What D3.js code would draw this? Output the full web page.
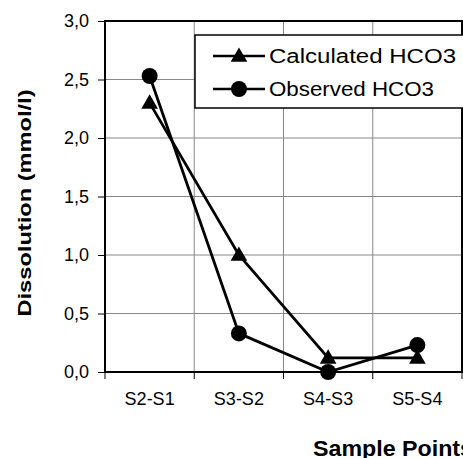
<!DOCTYPE html>
<html>
<head>
<meta charset="utf-8">
<script src="https://cdn.jsdelivr.net/npm/d3@7"></script>
<style>
body { margin: 0; background: #fff; }
svg { display: block; font-family: "Liberation Sans", Arial, sans-serif; }
</style>
</head>
<body>
<div id="viz"></div>
<script>
// Data.
var categories = ["S2-S1", "S3-S2", "S4-S3", "S5-S4"];
var calculated = [2.30, 1.00, 0.12, 0.12];
var observed = [2.53, 0.33, 0.00, 0.23];
var yTicks = [0, 0.5, 1.0, 1.5, 2.0, 2.5, 3.0];
var seriesNames = ["Calculated HCO3", "Observed HCO3"];

var W = 463, H = 458;
var padL = 105, padR = 462, padT = 21, padB = 372;

var svg = d3.select("#viz")
	.append("svg")
	.attr("width", W)
	.attr("height", H);

var x = d3.scaleBand().domain(categories).range([padL, padR]);
var y = d3.scaleLinear().domain([0, 3]).range([padB, padT]);

// Grid.
svg.append("g").selectAll("line")
	.data(yTicks)
	.enter().append("line")
	.attr("x1", padL).attr("x2", padR)
	.attr("y1", function(d) { return y(d); })
	.attr("y2", function(d) { return y(d); })
	.style("stroke", "#888")
	.style("stroke-width", 1);

var bounds = categories.slice(1).map(function(c) { return x(c); });
svg.append("g").selectAll("line")
	.data(bounds)
	.enter().append("line")
	.attr("x1", function(d) { return d; })
	.attr("x2", function(d) { return d; })
	.attr("y1", padT).attr("y2", padB)
	.style("stroke", "#888")
	.style("stroke-width", 1);

// Axes.
var yAxis = d3.axisLeft(y)
	.tickValues(yTicks)
	.tickSize(7)
	.tickPadding(9)
	.tickFormat(function(d) { return d3.format(".1f")(d).replace(".", ","); });
var gy = svg.append("g").attr("transform", "translate(" + padL + ",0)").call(yAxis);
gy.select(".domain").remove();
gy.selectAll("text").style("font-size", "18px").style("fill", "#000");
gy.selectAll("line").style("stroke", "#000");

var xAxis = d3.axisBottom(x).tickSize(0).tickPadding(20);
var gx = svg.append("g").attr("transform", "translate(0," + padB + ")").call(xAxis);
gx.select(".domain").remove();
gx.selectAll("text").style("font-size", "18px").style("fill", "#000");

// Tick marks below the x axis at category boundaries.
svg.append("g").selectAll("line")
	.data([padL].concat(bounds).concat([padR]))
	.enter().append("line")
	.attr("x1", function(d) { return d; })
	.attr("x2", function(d) { return d; })
	.attr("y1", padB).attr("y2", padB + 7)
	.style("stroke", "#000");

// Frame.
svg.append("rect")
	.attr("x", padL).attr("y", padT)
	.attr("width", padR - padL).attr("height", padB - padT)
	.style("fill", "none")
	.style("stroke", "#000")
	.style("stroke-width", 2);

// Axis titles.
svg.append("text")
	.attr("transform", "translate(31,203) rotate(-90)")
	.attr("text-anchor", "middle")
	.attr("textLength", 227)
	.attr("lengthAdjust", "spacingAndGlyphs")
	.style("font-size", "19px")
	.style("font-weight", "bold")
	.text("Dissolution (mmol/l)");

svg.append("text")
	.attr("x", 313).attr("y", 456)
	.attr("textLength", 160)
	.attr("lengthAdjust", "spacingAndGlyphs")
	.style("font-size", "22px")
	.style("font-weight", "bold")
	.text("Sample Points");

// Series.
var cx = function(i) { return x(categories[i]) + x.bandwidth() / 2; };
var line = d3.line()
	.x(function(d, i) { return cx(i); })
	.y(function(d) { return y(d); });

var triangle = d3.symbol().type(d3.symbolTriangle).size(120);

function marker(px, py, kind) {
	if (kind == "circle") {
		svg.append("circle")
			.attr("cx", px).attr("cy", py).attr("r", 8)
			.style("fill", "#000");
	} else {
		svg.append("path")
			.attr("d", triangle())
			.attr("transform", "translate(" + px + "," + (py + 1) + ")")
			.style("fill", "#000");
	}
}

function drawSeries(values, kind) {
	svg.append("path")
		.attr("d", line(values))
		.style("fill", "none")
		.style("stroke", "#000")
		.style("stroke-width", 2.8);
	values.forEach(function(v, i) {
		marker(cx(i), y(v), kind);
	});
}

drawSeries(calculated, "triangle");
drawSeries(observed, "circle");

// Legend.
svg.append("rect")
	.attr("x", 195).attr("y", 35)
	.attr("width", 275).attr("height", 73)
	.style("fill", "#fff")
	.style("stroke", "#000")
	.style("stroke-width", 1.5);

[["triangle", 56], ["circle", 89]].forEach(function(it, k) {
	svg.append("line")
		.attr("x1", 213).attr("x2", 265)
		.attr("y1", it[1]).attr("y2", it[1])
		.style("stroke", "#000")
		.style("stroke-width", 2.5);
	marker(239, it[1], it[0]);
	svg.append("text")
		.attr("x", 269).attr("y", it[1] + 7)
		.attr("textLength", k == 0 ? 187 : 165)
		.attr("lengthAdjust", "spacingAndGlyphs")
		.style("font-size", "20px")
		.text(seriesNames[k]);
});
</script>
</body>
</html>
